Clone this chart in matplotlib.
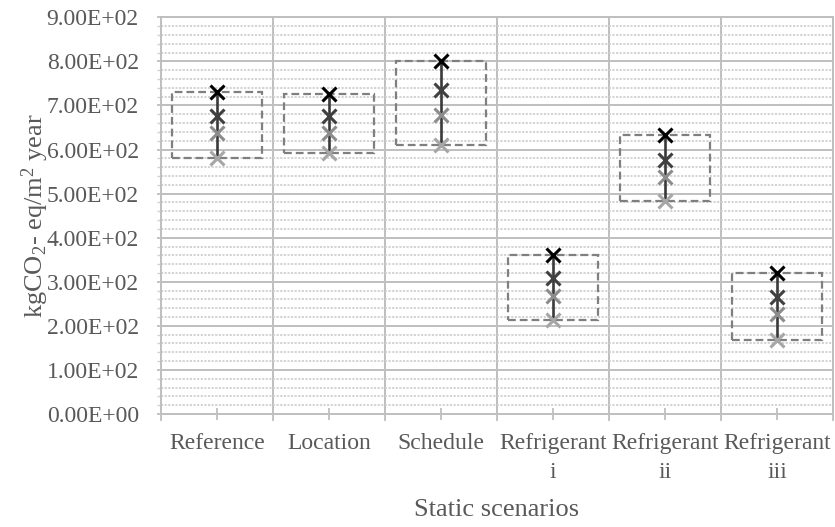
import matplotlib
matplotlib.use("Agg")
import matplotlib.pyplot as plt
from matplotlib.patches import Rectangle
from matplotlib.ticker import MultipleLocator, FixedLocator, FuncFormatter

plt.rcParams['font.family'] = ['Liberation Serif', 'DejaVu Serif']
plt.rcParams['mathtext.fontset'] = 'custom'
plt.rcParams['mathtext.rm'] = 'Liberation Serif'
plt.rcParams['mathtext.it'] = 'Liberation Serif:italic'

categories = ["Reference", "Location", "Schedule", "Refrigerant\ni", "Refrigerant\nii", "Refrigerant\niii"]
s1_top = [730, 726, 801, 360, 632, 321]
s2 = [676, 677, 734, 308, 577, 266]
s3 = [637, 637, 678, 268, 537, 228]
s4_bottom = [581, 591, 611, 213, 484, 169]

marker_colors = ["#000000", "#404040", "#8c8c8c", "#a6a6a6"]
text_color = "#595959"
grid_color = "#bfbfbf"

fig = plt.figure(figsize=(8.35, 5.27), dpi=100)
ax = fig.add_axes([0.1928, 0.2144, 0.8048, 0.7528])

ax.set_xlim(0, len(categories))
ax.set_ylim(0, 900)

series = [s1_top, s2, s3, s4_bottom]
for i, cat in enumerate(categories):
    xc = i + 0.5
    vals = [s[i] for s in series]
    lo, hi = min(vals), max(vals)
    ax.add_patch(Rectangle((xc - 0.4, lo), 0.8, hi - lo, fill=False,
                           edgecolor="#7f7f7f", linewidth=1.6,
                           linestyle=(0, (3.5, 1.8)), zorder=3))
    ax.plot([xc, xc], [lo, hi], color="#3a3a3a", linewidth=1.9, zorder=4)
for s, c in zip(series, marker_colors):
    ax.plot([i + 0.5 for i in range(len(categories))], s, linestyle='none',
            marker='x', markersize=10, markeredgewidth=2.2, color=c, zorder=5)

# y axis
ax.yaxis.set_major_locator(MultipleLocator(100))
ax.yaxis.set_minor_locator(MultipleLocator(20))
ax.yaxis.set_major_formatter(FuncFormatter(lambda v, p: f"{v:.2E}"))
ax.grid(True, which='major', axis='y', color=grid_color, linewidth=1.4, zorder=0)
ax.grid(True, which='minor', axis='y', color="#d0d0d0", linewidth=1.3,
        linestyle=(0, (1.2, 0.8)), zorder=0)

# x axis
ax.xaxis.set_major_locator(FixedLocator([i + 0.5 for i in range(len(categories))]))
ax.set_xticklabels(categories)
ax.xaxis.set_minor_locator(FixedLocator(list(range(len(categories) + 1))))
ax.grid(True, which='minor', axis='x', color=grid_color, linewidth=1.4, zorder=0)
ax.set_axisbelow(True)

ax.tick_params(axis='x', which='major', direction='inout', length=8, width=1.3,
               color=grid_color, labelsize=17, labelcolor=text_color, pad=10)
ax.tick_params(axis='x', which='minor', direction='out', length=5, width=1.3,
               color=grid_color)
ax.tick_params(axis='y', which='major', direction='out', length=3, width=1.3,
               color=grid_color, labelsize=17, labelcolor=text_color, pad=13)
ax.tick_params(axis='y', which='minor', direction='out', length=3, width=1.0,
               color="#d0d0d0")
for lab in ax.get_xticklabels():
    lab.set_linespacing(1.45)

for side in ['top', 'right', 'left', 'bottom']:
    ax.spines[side].set_color(grid_color)
    ax.spines[side].set_linewidth(1.4)

ax.set_xlabel("Static scenarios", fontsize=19, color=text_color, labelpad=12)
ax.set_ylabel("kgCO$_2$- eq/m$^2$ year", fontsize=19, color=text_color, labelpad=-3)

fig.savefig("out.png", dpi=100)
